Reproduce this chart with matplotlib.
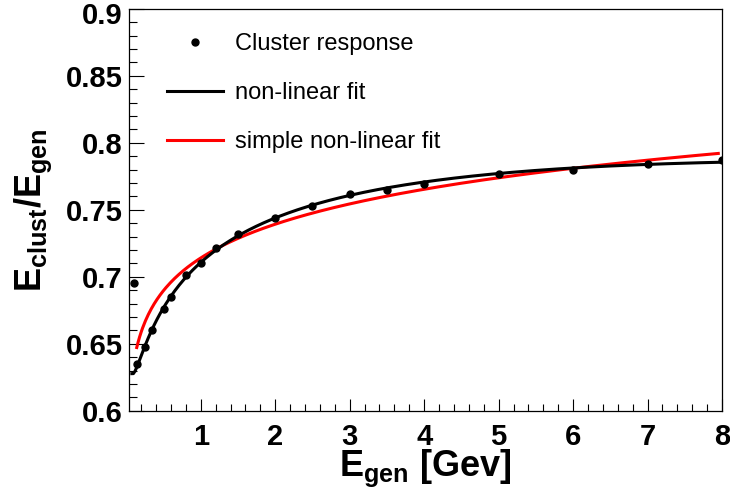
import numpy as np
import matplotlib
matplotlib.use("Agg")
import matplotlib.pyplot as plt
import matplotlib.transforms as mtransforms
from matplotlib.lines import Line2D
from matplotlib.ticker import MultipleLocator, FixedLocator

plt.rcParams['font.family'] = ['Liberation Sans', 'DejaVu Sans']
plt.rcParams['mathtext.fontset'] = 'custom'
plt.rcParams['mathtext.rm'] = 'Liberation Sans:bold'
plt.rcParams['mathtext.it'] = 'Liberation Sans:bold'
plt.rcParams['mathtext.bf'] = 'Liberation Sans:bold'

# ---- data ----
e_gen = [0.1, 0.15, 0.25, 0.35, 0.5, 0.6, 0.8, 1.0, 1.2, 1.5, 2.0, 2.5,
         3.0, 3.5, 4.0, 5.0, 6.0, 7.0, 8.0]
response = [0.6955, 0.6346, 0.6478, 0.6602, 0.6757, 0.6851, 0.7010, 0.7100,
            0.7216, 0.7319, 0.7440, 0.7530, 0.7615, 0.7650, 0.7690, 0.7770,
            0.7800, 0.7840, 0.7870]

# simple non-linear fit: a * x^b
simple_a = 0.714
simple_b = 0.05
simple_range = (0.14, 7.95)
full_range = (0.075, 8.0)

x_ticks = [1, 2, 3, 4, 5, 6, 7, 8]
y_ticks = [0.6, 0.65, 0.7, 0.75, 0.8, 0.85, 0.9]
y_tick_labels = ['0.6', '0.65', '0.7', '0.75', '0.8', '0.85', '0.9']

x_arr = np.array(e_gen)
y_arr = np.array(response)

# non-linear fit: cubic in log(E) fitted to the points (first point excluded)
coef = np.polyfit(np.log(x_arr[1:]), y_arr[1:], 3)
xf = np.linspace(full_range[0], full_range[1], 400)
yf = np.polyval(coef, np.log(xf))

xs = np.linspace(simple_range[0], simple_range[1], 400)
ys = simple_a * xs ** simple_b

fig = plt.figure(figsize=(7.3, 4.91), dpi=100)
ax = fig.add_axes([129 / 730, 1 - 410.7 / 491, 593 / 730, 402 / 491])

ax.plot(xf, yf, color='black', lw=2.2, zorder=3)
ax.plot(xs, ys, color='#ff0000', lw=2.2, zorder=2)
ax.plot(x_arr, y_arr, 'o', color='black', ms=5, zorder=4)

ax.set_xlim(0.036, 8.0)
ax.set_ylim(0.6, 0.9)

ax.xaxis.set_major_locator(FixedLocator(x_ticks))
ax.xaxis.set_minor_locator(MultipleLocator(0.2))
ax.yaxis.set_major_locator(FixedLocator(y_ticks))
ax.set_yticklabels(y_tick_labels)
ax.yaxis.set_minor_locator(MultipleLocator(0.01))

ax.tick_params(axis='both', which='both', direction='in', top=False, right=False,
               color='black', width=0.8)
ax.tick_params(axis='x', which='major', length=9, pad=8.5, labelsize=21)
ax.tick_params(axis='x', which='minor', length=5)
ax.tick_params(axis='y', which='major', length=11, pad=4.5, labelsize=21)
ax.tick_params(axis='y', which='minor', length=5.5)
for lab in ax.get_xticklabels() + ax.get_yticklabels():
    lab.set_fontweight('bold')
# keep the top label inside the figure, as in the reference
top_lab = ax.get_yticklabels()[-1]
top_lab.set_transform(top_lab.get_transform() +
                      mtransforms.ScaledTranslation(0, -4 / 100, fig.dpi_scale_trans))

for sp in ax.spines.values():
    sp.set_linewidth(0.9)
    sp.set_color('black')

ax.set_xlabel(r'$E_{gen}$ [Gev]', fontsize=26, fontweight='bold')
ax.xaxis.set_label_coords(0.5, -0.092)
ax.set_ylabel(r'$E_{clust}/E_{gen}$', fontsize=26, fontweight='bold')
ax.yaxis.set_label_coords(-0.127, 0.5)

handles = [
    Line2D([], [], marker='o', ls='none', color='black', ms=5),
    Line2D([], [], color='black', lw=2.2),
    Line2D([], [], color='#ff0000', lw=2.2),
]
labels = ['Cluster response', 'non-linear fit', 'simple non-linear fit']
ax.legend(handles, labels, loc='upper left', bbox_to_anchor=(0.0636, 0.94),
          frameon=False, fontsize=17, handlelength=2.4, handletextpad=0.5,
          labelspacing=1.15, borderpad=0, borderaxespad=0)

fig.savefig('out.png', dpi=100)
